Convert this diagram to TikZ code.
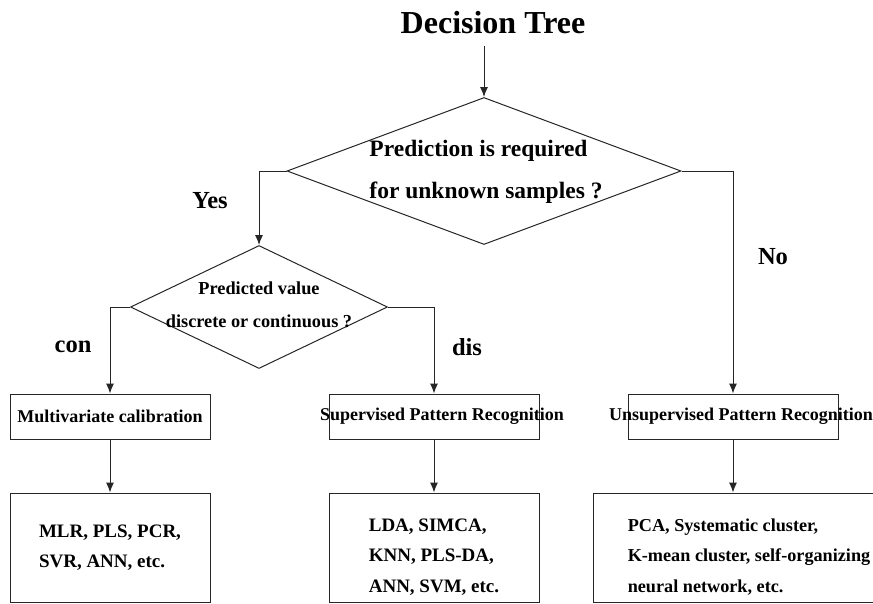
\documentclass[tikz,border=0pt]{standalone}
\usepackage{fontspec}
\setmainfont{Liberation Serif}
\usetikzlibrary{shapes,arrows.meta,positioning,calc}

\begin{document}
\begin{tikzpicture}
[
	x=1pt, y=-1pt,
	line width=1pt,
	arr/.style={draw=black!85,-{Latex[length=10pt,width=8pt]}},
	dia/.style={shape=diamond,draw=black!85,inner sep=0pt},
	box/.style={rectangle,draw=black!85,inner sep=0pt,minimum height=45},
	list/.style={rectangle,draw=black!85,inner sep=0pt,minimum height=109,align=left,
		font=\bfseries\fontsize{19}{30.5}\selectfont},
	ask/.style={align=left,inner sep=0pt,font=\bfseries\fontsize{23.5}{42}\selectfont},
	tag/.style={inner sep=0pt,font=\bfseries\fontsize{24.5}{28}\selectfont},
]
	\useasboundingbox (0,0) rectangle (873,603);

	% title and first question
	\node[font=\bfseries\fontsize{32}{38}\selectfont] (tree) at (493,23) {Decision Tree};
	\node[dia,minimum width=394,minimum height=147] (pred) at (484,171) {};
	\node[ask] (predtxt) at (486,172) {Prediction is required\\for unknown samples ?};
	\draw[arr,shorten <=8pt] (tree.south -| pred) -- (pred.north);

	% second question
	\node[dia,minimum width=257,minimum height=123] (val) at (259,307) {};
	\node[ask,align=center,font=\bfseries\fontsize{18.3}{33}\selectfont] (valtxt) at (259,305)
		{Predicted value\\discrete or continuous ?};

	\node[tag] (yes) at (210,201) {Yes};
	\node[tag] (no) at (773,257) {No};
	\node[tag] (con) at (73,347) {con};
	\node[tag] (dis) at (467,347) {dis};

	% method families
	\begin{scope}[font=\bfseries\fontsize{18}{22}\selectfont]
		\node[box,minimum width=200] (mc) at (110,416.5) {\makebox[0pt]{Multivariate calibration}};
		\node[box,minimum width=210] (spr) at (434,416.5) {\makebox[0pt]{\hspace*{16pt}Supervised Pattern Recognition}};
		\node[box,minimum width=210] (upr) at (733,416.5) {\makebox[0pt]{\hspace*{16pt}Unsupervised Pattern Recognition}};
	\end{scope}

	% algorithms
	\node[list,minimum width=200] (m1) at (110,547.5) {MLR, PLS, PCR,\\SVR, ANN, etc.};
	\node[list,minimum width=210] (m2) at (434,547.5) {\rule{0pt}{31pt}LDA, SIMCA,\\KNN, PLS-DA,\\ANN, SVM, etc.};
	\node[list,minimum width=312,font=\bfseries\fontsize{18.2}{30.5}\selectfont] (m3) at (749,547.5)
		{\rule{0pt}{31pt}PCA, Systematic cluster,\\K-mean cluster, self-organizing\\neural network, etc.};

	\draw[arr] (pred.west) -| (val.north);
	\draw[arr] (pred.east) -| (upr.north);
	\draw[arr] (val.west) -| (mc.north);
	\draw[arr] (val.east) -| (spr.north);
	\draw[arr] (mc) -- (m1);
	\draw[arr] (spr) -- (m2);
	\draw[arr] (upr) -- (upr |- m3.north);
\end{tikzpicture}
\end{document}
